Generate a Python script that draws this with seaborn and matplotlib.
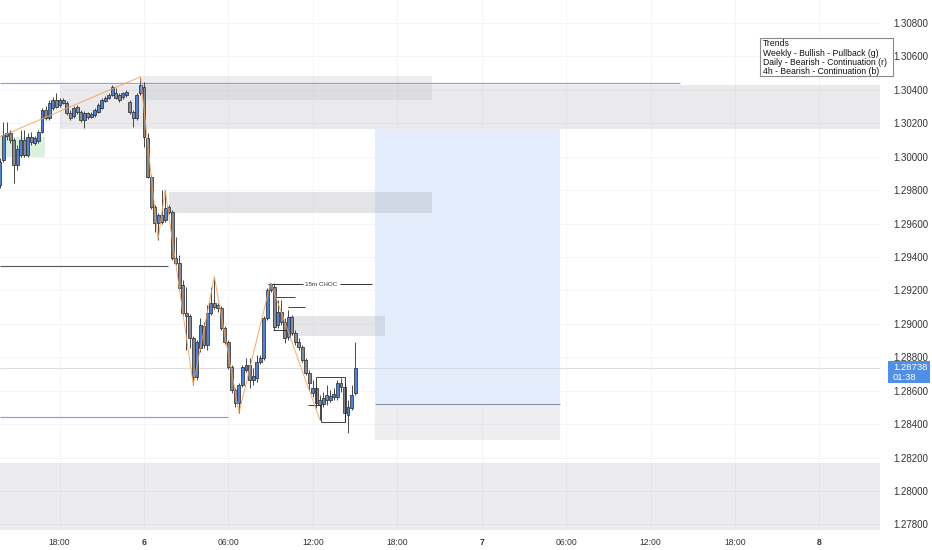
import numpy as np
import pandas as pd
import matplotlib
matplotlib.use("Agg")
import matplotlib.pyplot as plt
from matplotlib.patches import Rectangle
import seaborn as sns

# ---------------- data (15m candles, price units) ----------------
opens = [1.29832, 1.29981, 1.30125, 1.30143, 1.30101, 1.29951, 1.30011, 1.30101, 1.30011, 1.30119,
         1.30083, 1.30095, 1.30149, 1.30280, 1.30232, 1.30292, 1.30340, 1.30310, 1.30340, 1.30322,
         1.30262, 1.30244, 1.30298, 1.30268, 1.30220, 1.30262, 1.30238, 1.30250, 1.30268, 1.30292,
         1.30334, 1.30352, 1.30370, 1.30382, 1.30370, 1.30358, 1.30370, 1.30328, 1.30268, 1.30232,
         1.30382, 1.30418, 1.30113, 1.29880, 1.29700, 1.29604, 1.29652, 1.29622, 1.29700, 1.29670,
         1.29395, 1.29365, 1.29234, 1.29066, 1.29048, 1.28917, 1.28684, 1.28857, 1.28989, 1.28875,
         1.29066, 1.29126, 1.29114, 1.29096, 1.28977, 1.28893, 1.28743, 1.28606, 1.28528, 1.28636,
         1.28725, 1.28755, 1.28666, 1.28678, 1.28773, 1.28797, 1.29036, 1.29204, 1.29222, 1.28995,
         1.29072, 1.29012, 1.28923, 1.29042, 1.28947, 1.28893, 1.28863, 1.28785, 1.28708, 1.28588,
         1.28618, 1.28546, 1.28522, 1.28576, 1.28546, 1.28564, 1.28564, 1.28648, 1.28624, 1.28456,
         1.28498, 1.28588]
highs = [1.29993, 1.30208, 1.30208, 1.30161, 1.30113, 1.30071, 1.30161, 1.30161, 1.30143, 1.30149,
         1.30125, 1.30161, 1.30292, 1.30304, 1.30340, 1.30358, 1.30382, 1.30352, 1.30352, 1.30334,
         1.30280, 1.30304, 1.30310, 1.30280, 1.30274, 1.30268, 1.30268, 1.30292, 1.30322, 1.30352,
         1.30364, 1.30382, 1.30430, 1.30412, 1.30382, 1.30388, 1.30400, 1.30340, 1.30280, 1.30382,
         1.30478, 1.30448, 1.30143, 1.29892, 1.29712, 1.29664, 1.29802, 1.29802, 1.29712, 1.29682,
         1.29521, 1.29413, 1.29264, 1.29222, 1.29060, 1.28929, 1.28905, 1.29036, 1.29012, 1.29114,
         1.29222, 1.29282, 1.29126, 1.29108, 1.28989, 1.28905, 1.28755, 1.28618, 1.28648, 1.28755,
         1.28797, 1.28797, 1.28737, 1.28815, 1.28815, 1.29048, 1.29216, 1.29246, 1.29246, 1.29144,
         1.29144, 1.29036, 1.29084, 1.29054, 1.28965, 1.28917, 1.28875, 1.28797, 1.28725, 1.28666,
         1.28636, 1.28576, 1.28594, 1.28636, 1.28606, 1.28618, 1.28666, 1.28678, 1.28648, 1.28546,
         1.28636, 1.28893]
lows = [1.29814, 1.29969, 1.30101, 1.30083, 1.29844, 1.29921, 1.29999, 1.29999, 1.29999, 1.30071,
        1.30071, 1.30083, 1.30143, 1.30220, 1.30220, 1.30280, 1.30292, 1.30298, 1.30316, 1.30250,
        1.30220, 1.30232, 1.30256, 1.30208, 1.30173, 1.30226, 1.30232, 1.30238, 1.30262, 1.30286,
        1.30328, 1.30346, 1.30364, 1.30346, 1.30328, 1.30346, 1.30358, 1.30256, 1.30179, 1.30220,
        1.30370, 1.30059, 1.29874, 1.29688, 1.29551, 1.29503, 1.29598, 1.29610, 1.29658, 1.29383,
        1.29353, 1.29204, 1.29054, 1.28845, 1.28857, 1.28636, 1.28666, 1.28833, 1.28857, 1.28845,
        1.29054, 1.29090, 1.29072, 1.28965, 1.28881, 1.28731, 1.28588, 1.28504, 1.28468, 1.28624,
        1.28713, 1.28618, 1.28636, 1.28654, 1.28761, 1.28785, 1.29024, 1.29192, 1.28965, 1.28977,
        1.28995, 1.28887, 1.28905, 1.28935, 1.28875, 1.28845, 1.28773, 1.28696, 1.28606, 1.28564,
        1.28498, 1.28426, 1.28504, 1.28516, 1.28534, 1.28546, 1.28546, 1.28594, 1.28414, 1.28349,
        1.28486, 1.28576]
closes = [1.29969, 1.30131, 1.30143, 1.30101, 1.29951, 1.30047, 1.30101, 1.30011, 1.30119, 1.30089,
          1.30113, 1.30149, 1.30280, 1.30232, 1.30322, 1.30340, 1.30298, 1.30340, 1.30322, 1.30262,
          1.30232, 1.30292, 1.30268, 1.30220, 1.30262, 1.30238, 1.30256, 1.30280, 1.30310, 1.30340,
          1.30352, 1.30370, 1.30418, 1.30352, 1.30340, 1.30382, 1.30388, 1.30268, 1.30232, 1.30370,
          1.30430, 1.30119, 1.29880, 1.29700, 1.29604, 1.29652, 1.29610, 1.29694, 1.29670, 1.29395,
          1.29365, 1.29216, 1.29066, 1.29048, 1.28917, 1.28684, 1.28893, 1.28995, 1.28875, 1.29066,
          1.29126, 1.29102, 1.29096, 1.28977, 1.28893, 1.28743, 1.28606, 1.28528, 1.28636, 1.28743,
          1.28755, 1.28666, 1.28690, 1.28773, 1.28797, 1.29036, 1.29204, 1.29234, 1.28983, 1.29072,
          1.29012, 1.28917, 1.29042, 1.28947, 1.28893, 1.28863, 1.28785, 1.28708, 1.28648, 1.28618,
          1.28528, 1.28516, 1.28558, 1.28546, 1.28570, 1.28582, 1.28648, 1.28624, 1.28468, 1.28504,
          1.28576, 1.28738]

first_candle_hour = -10.25      # hours relative to day "6" 00:00
candle_step_hours = 0.25        # 15 minute candles

# zigzag swing points (hour, price)
zigzag_hours = [-10.25, -0.25, 1.0, 1.5, 3.5, 5.0, 6.75, 9.0, 12.5]
zigzag_prices = [1.30119, 1.30478, 1.29503, 1.29802, 1.28636, 1.29282, 1.28468, 1.29246, 1.28426]

# grey supply/demand zones: (hour start, hour end, price low, price high)
zone_hours_start = [-6.0, -0.2, 1.8, 10.3, -11.0, 16.4, -11.0]
zone_hours_end = [60.0, 20.5, 20.5, 17.1, 60.0, 29.6, -7.05]
zone_price_low = [1.30166, 1.30339, 1.29663, 1.28927, 1.27700, 1.28305, 1.29998]
zone_price_high = [1.30429, 1.30483, 1.29789, 1.29047, 1.28168, 1.28521, 1.30118]

# target (blue) zone
target_hours = [16.4, 29.6]
target_prices = [1.28521, 1.30166]

# horizontal levels
level_top_purple = 1.30441
level_mid_black = 1.29346
level_low_purple = 1.28443
level_choc = 1.29238
level_entry = 1.28521
last_price = 1.28738

tick_hours = [-6, 0, 6, 12, 18, 24, 30, 36, 42, 48]
tick_names = ["18:00", "6", "06:00", "12:00", "18:00", "7", "06:00", "12:00", "18:00", "8"]
price_ticks = [1.278, 1.280, 1.282, 1.284, 1.286, 1.288, 1.290, 1.292, 1.294,
               1.296, 1.298, 1.300, 1.302, 1.304, 1.306, 1.308]
legend_lines = ["Trends", "Weekly - Bullish - Pullback (g)",
                "Daily - Bearish - Continuation (r)", "4h - Bearish - Continuation (b)"]

# ---------------- style ----------------
sns.set_theme(style="white")
plt.rcParams["font.family"] = ["Liberation Sans", "DejaVu Sans"]

df = pd.DataFrame({"o": opens, "h": highs, "l": lows, "c": closes})
df["t"] = first_candle_hour + candle_step_hours * np.arange(len(df))
df["up"] = df["c"] >= df["o"]

W, H = 932, 550
fig = plt.figure(figsize=(W / 100, H / 100), dpi=100)
ax = fig.add_axes([0, 20 / H, 880 / W, 530 / H])

xmin, xmax = -10.235, 52.31
ymin, ymax = 1.27767, 1.309376
ax.set_xlim(xmin, xmax)
ax.set_ylim(ymin, ymax)

ax.set_xticks(tick_hours)
ax.set_yticks(price_ticks)
ax.grid(True, color="#f5f5f7", lw=0.7)
ax.set_axisbelow(True)
for s in ax.spines.values():
    s.set_visible(False)

# blue target zone (below grey zones)
ax.add_patch(Rectangle((target_hours[0], target_prices[0]),
                       target_hours[1] - target_hours[0],
                       target_prices[1] - target_prices[0],
                       facecolor="#e3edfb", edgecolor="none", zorder=0.8))

# grey zones (translucent so overlaps darken)
zone_colors = ["#9a9aa6", "#9a9aa6", "#9a9aa6", "#9a9aa6", "#9a9aa6", "#9a9aa6", "#7fcf7f"]
zone_alpha = [0.2, 0.16, 0.26, 0.24, 0.19, 0.16, 0.28]
for i in range(len(zone_hours_start)):
    ax.add_patch(Rectangle((zone_hours_start[i], zone_price_low[i]),
                           zone_hours_end[i] - zone_hours_start[i],
                           zone_price_high[i] - zone_price_low[i],
                           facecolor=zone_colors[i], edgecolor="none",
                           alpha=zone_alpha[i], zorder=1))

# lines
ax.hlines(level_top_purple, xmin, 38.1, color="#9a9ad8", lw=0.9, zorder=2)
ax.hlines(level_mid_black, xmin, 1.7, color="#555555", lw=0.8, zorder=2)
ax.hlines(level_low_purple, xmin, 6.0, color="#9a9ad8", lw=0.9, zorder=2)
ax.hlines(level_entry, 16.4, 29.6, color="#8a93a8", lw=0.8, zorder=2)
ax.axhline(last_price, color="#d4d6dc", lw=0.6, zorder=1.5)

# CHOC line with label
ax.hlines(level_choc, 8.8, 11.3, color="#333333", lw=0.7, zorder=2)
ax.hlines(level_choc, 13.9, 16.2, color="#333333", lw=0.7, zorder=2)
ax.text(12.6, level_choc, "15m CHOC", fontsize=4.5, color="#333333",
        ha="center", va="center", zorder=5)

# structure lines (black thin)
struct_lines = [
    (9.17, 10.16, 1.28963), (9.3, 10.75, 1.29161), (10.2, 11.45, 1.29101),
    (12.2, 14.3, 1.28682), (12.55, 14.3, 1.28413), (11.65, 12.6, 1.28515),
]
for a, b, p in struct_lines:
    ax.hlines(p, a, b, color="#222222", lw=0.6, zorder=4)
ax.vlines(12.2, 1.28520, 1.28682, color="#222222", lw=0.6, zorder=4)
ax.vlines(14.3, 1.28413, 1.28682, color="#222222", lw=0.6, zorder=4)
ax.vlines(12.55, 1.28413, 1.28520, color="#222222", lw=0.6, zorder=4)

# candles
wick_col = "#3a3a3a"
ax.vlines(df["t"], df["l"], df["h"], color=wick_col, lw=0.65, zorder=3)
bw = 0.21
body_low = np.minimum(df["o"], df["c"])
body_h = np.maximum(np.abs(df["c"] - df["o"]), 0.00003)
face = np.where(df["up"], "#4f82d4", "#8a8a8a")
ax.bar(df["t"], body_h, bottom=body_low, width=bw, color=face,
       edgecolor="#2e2e36", linewidth=0.55, zorder=3.5)

# zigzag
zz = pd.DataFrame({"t": zigzag_hours, "p": zigzag_prices})
sns.lineplot(data=zz, x="t", y="p", sort=False, ax=ax, color="#f2a25c",
             lw=0.7, alpha=0.9, zorder=4.5)
ax.set_xlabel("")
ax.set_ylabel("")

# axes labels
ax.yaxis.tick_right()
ax.set_yticklabels([f"{v:.5f}" for v in price_ticks])
ax.tick_params(axis="y", length=0, pad=9.5, labelsize=7, labelcolor="#333333")
ax.set_xticklabels(tick_names)
ax.tick_params(axis="x", length=0, pad=6, labelsize=6.2, labelcolor="#333333")
for lab in ax.get_xticklabels():
    if lab.get_text() in ("6", "7", "8"):
        lab.set_fontweight("bold")

# legend box (figure coords)
bx0, bx1, by0, by1 = 760, 893, 38, 76
fig.patches.append(Rectangle((bx0 / W, 1 - by1 / H), (bx1 - bx0) / W, (by1 - by0) / H,
                             transform=fig.transFigure, facecolor="white",
                             edgecolor="#8a8a8a", lw=0.8, zorder=10))
for k, line in enumerate(legend_lines):
    fig.text(763 / W, 1 - (44 + 9 * k) / H, line, fontsize=6.2, color="#111111",
             ha="left", va="center", zorder=11)

# last price tag
fig.patches.append(Rectangle((888 / W, 1 - 383 / H), 42 / W, 22 / H,
                             transform=fig.transFigure, facecolor="#4f8fe8",
                             edgecolor="none", zorder=10))
fig.text(893 / W, 1 - 367 / H, f"{last_price:.5f}", fontsize=6.8, color="white",
         ha="left", va="center", zorder=11)
fig.text(893 / W, 1 - 377.5 / H, "01:38", fontsize=6.8, color="white",
         ha="left", va="center", zorder=11)

fig.savefig("out.png", dpi=100)
